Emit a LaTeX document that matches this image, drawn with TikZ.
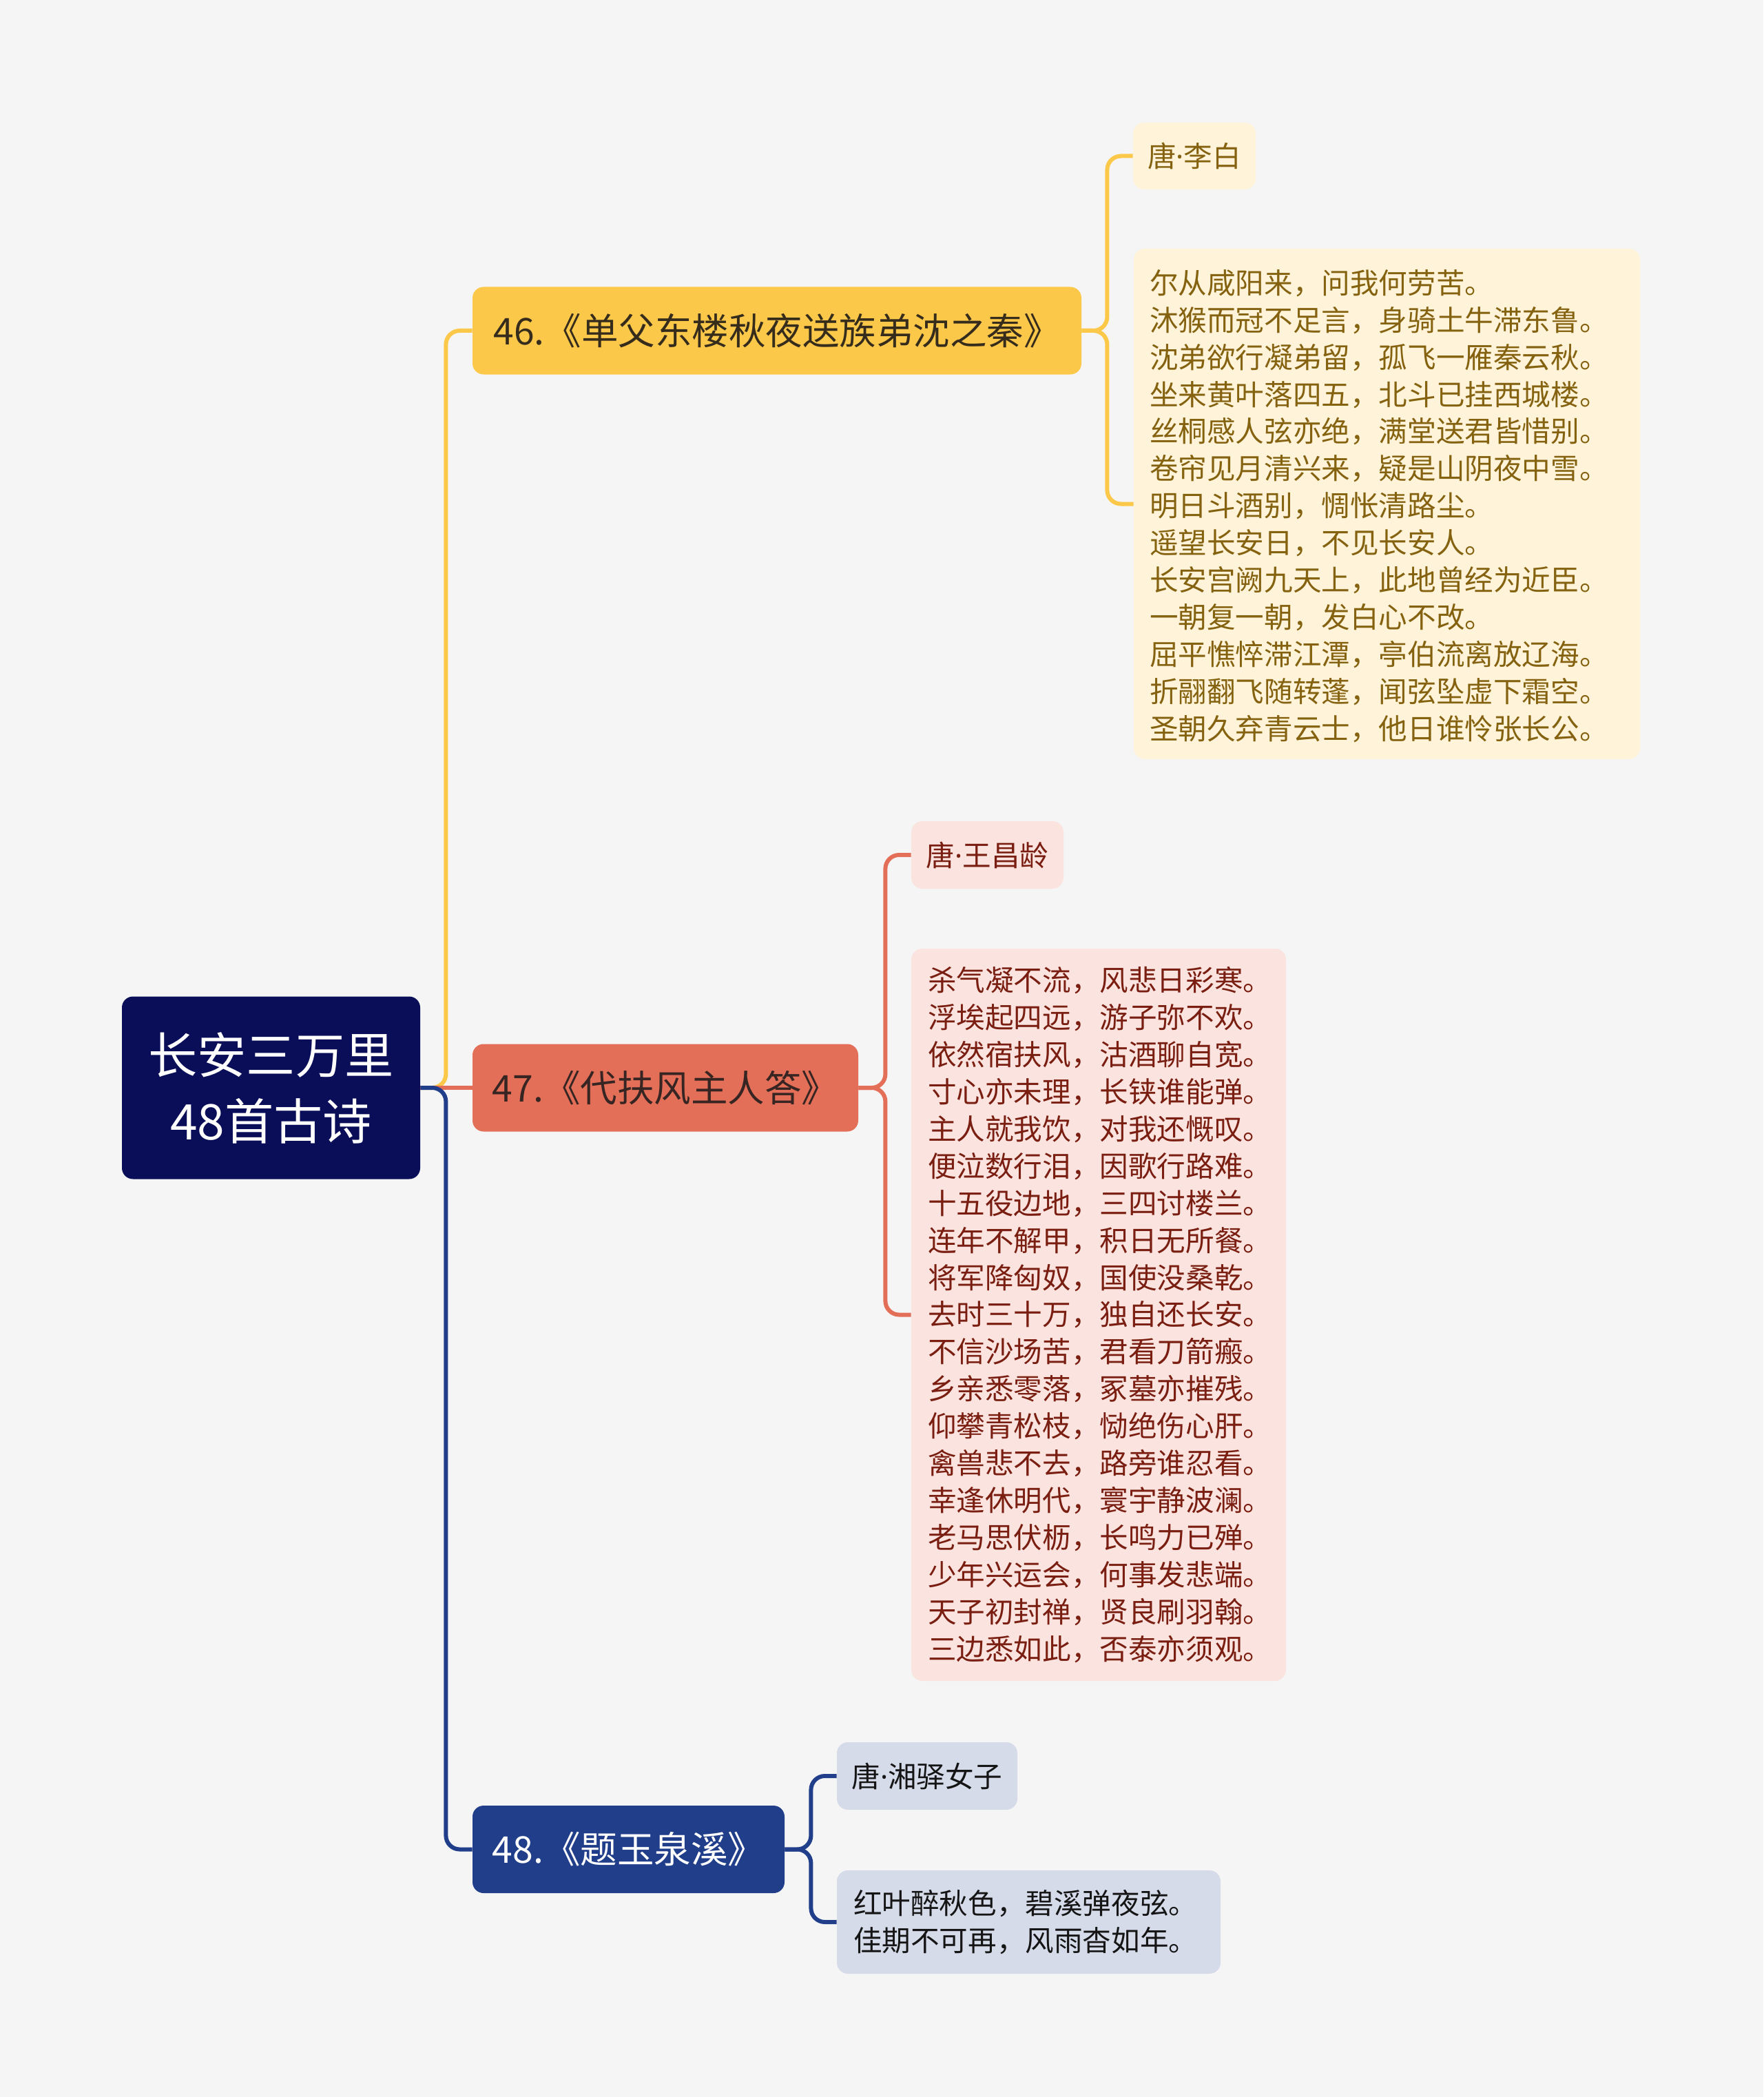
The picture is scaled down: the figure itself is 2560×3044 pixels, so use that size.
\documentclass[tikz,border=0pt]{standalone}
\usepackage{fontspec}
\setmainfont{Noto Sans CJK SC}
\newfontfamily\latinf{Noto Sans}
\newcommand{\mdot}{{\latinf ·}}
\definecolor{bgc}{HTML}{F5F5F5}
\definecolor{rootc}{HTML}{0A0E58}
\definecolor{ylw}{HTML}{FCC84A}
\definecolor{ylwlt}{HTML}{FFF3D9}
\definecolor{ylwtx}{HTML}{85620F}
\definecolor{ylwtt}{HTML}{362C1C}
\definecolor{crl}{HTML}{E46F58}
\definecolor{crllt}{HTML}{FBE4DF}
\definecolor{crltx}{HTML}{7A1E12}
\definecolor{crltt}{HTML}{362522}
\definecolor{blu}{HTML}{213E8A}
\definecolor{blult}{HTML}{D6DBEA}
\definecolor{blutx}{HTML}{151515}
\tikzset{
  rootbox/.style={fill=rootc,text=white,rounded corners=8pt,inner sep=0pt,align=center,
    font=\fontsize{35.6pt}{48pt}\selectfont},
  titlebox/.style={rounded corners=8pt,inner sep=0pt,minimum height=63.5pt,
    font=\fontsize{26.75pt}{32pt}\selectfont},
  leafbox/.style={rounded corners=8pt,inner sep=0pt,
    font=\fontsize{20.8pt}{27pt}\selectfont},
  poemtext/.style={inner sep=0pt,anchor=west,align=left,
    font=\fontsize{20.8pt}{26.95pt}\selectfont},
  conn/.style={line width=3pt,rounded corners=10pt}
}
\begin{document}
\begin{tikzpicture}[x=0.5pt,y=-0.5pt]
\fill[bgc] (0,0) rectangle (2560,3044);
\useasboundingbox (0,0) rectangle (2560,3044);

% root
\node[rootbox,minimum width=216.5pt,minimum height=132.5pt] (root) at (393.5,1579) {长安三万里\\48首古诗};

% branches
\node[titlebox,fill=ylw,text=ylwtt,minimum width=442pt] (b46) at (1128,480) {46.《单父东楼秋夜送族弟沈之秦》};
\node[titlebox,fill=crl,text=crltt,minimum width=280pt] (b47) at (966,1579) {47.《代扶风主人答》};
\node[titlebox,fill=blu,text=white,minimum width=226.5pt] (b48) at (912.5,2684.5) {48.《题玉泉溪》};

% 46 children
\node[leafbox,fill=ylwlt,text=ylwtx,minimum width=89pt,minimum height=48.5pt] (l46) at (1734,226.5) {唐\mdot 李白};
\node[leafbox,fill=ylwlt,minimum width=367.5pt,minimum height=370.5pt] (p46) at (2013.5,731.5) {};
\node[poemtext,text=ylwtx] (p46t) at ([xshift=11.5pt,yshift=-1.5pt]p46.west) {尔从咸阳来，问我何劳苦。\\沐猴而冠不足言，身骑土牛滞东鲁。\\沈弟欲行凝弟留，孤飞一雁秦云秋。\\坐来黄叶落四五，北斗已挂西城楼。\\丝桐感人弦亦绝，满堂送君皆惜别。\\卷帘见月清兴来，疑是山阴夜中雪。\\明日斗酒别，惆怅清路尘。\\遥望长安日，不见长安人。\\长安宫阙九天上，此地曾经为近臣。\\一朝复一朝，发白心不改。\\屈平憔悴滞江潭，亭伯流离放辽海。\\折翮翻飞随转蓬，闻弦坠虚下霜空。\\圣朝久弃青云士，他日谁怜张长公。};

% 47 children
\node[leafbox,fill=crllt,text=crltx,minimum width=110.5pt,minimum height=49pt] (l47) at (1433.5,1241) {唐\mdot 王昌龄};
\node[leafbox,fill=crllt,minimum width=272pt,minimum height=531.5pt] (p47) at (1595,1908.5) {};
\node[poemtext,text=crltx] (p47t) at ([xshift=12pt]p47.west) {杀气凝不流，风悲日彩寒。\\浮埃起四远，游子弥不欢。\\依然宿扶风，沽酒聊自宽。\\寸心亦未理，长铗谁能弹。\\主人就我饮，对我还慨叹。\\便泣数行泪，因歌行路难。\\十五役边地，三四讨楼兰。\\连年不解甲，积日无所餐。\\将军降匈奴，国使没桑乾。\\去时三十万，独自还长安。\\不信沙场苦，君看刀箭瘢。\\乡亲悉零落，冢墓亦摧残。\\仰攀青松枝，恸绝伤心肝。\\禽兽悲不去，路旁谁忍看。\\幸逢休明代，寰宇静波澜。\\老马思伏枥，长鸣力已殚。\\少年兴运会，何事发悲端。\\天子初封禅，贤良刷羽翰。\\三边悉如此，否泰亦须观。};

% 48 children
\node[leafbox,fill=blult,text=blutx,minimum width=131pt,minimum height=49pt] (l48) at (1346,2578) {唐\mdot 湘驿女子};
\node[leafbox,fill=blult,minimum width=278.5pt,minimum height=75pt] (p48) at (1493.5,2790) {};
\node[poemtext,text=blutx] (p48t) at ([xshift=12pt]p48.west) {红叶醉秋色，碧溪弹夜弦。\\佳期不可再，风雨杳如年。};

% connectors root -> branches
\draw[conn,ylw] (root.east) -- ++(37,0) |- (b46.west);
\draw[conn,crl] (root.east) -- (b47.west);
\draw[conn,blu] (root.east) -- ++(37,0) |- (b48.west);

% connectors branches -> leaves
\draw[conn,ylw] (b46.east) -- ++(37,0) |- (l46.west);
\draw[conn,ylw] (b46.east) -- ++(37,0) |- (p46.west);
\draw[conn,crl] (b47.east) -- ++(39,0) |- (l47.west);
\draw[conn,crl] (b47.east) -- ++(39,0) |- (p47.west);
\draw[conn,blu] (b48.east) -- ++(38,0) |- (l48.west);
\draw[conn,blu] (b48.east) -- ++(38,0) |- (p48.west);
\end{tikzpicture}
\end{document}
